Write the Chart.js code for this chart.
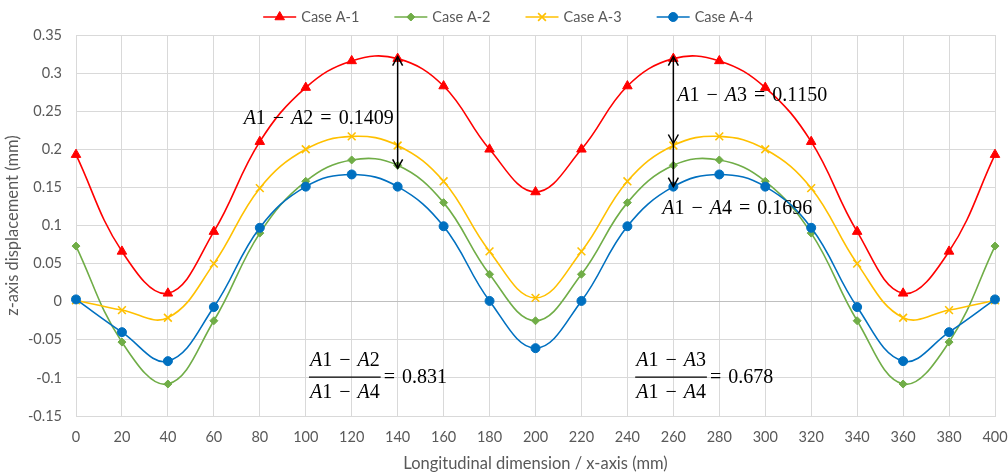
<!DOCTYPE html>
<html>
<head>
<meta charset="utf-8">
<script src="https://cdn.jsdelivr.net/npm/chart.js@4.4.1/dist/chart.umd.min.js"></script>
<style>
  html, body { margin: 0; padding: 0; background: #fff; }
  #wrap { width: 1008px; height: 476px; }
</style>
</head>
<body>
<div id="wrap"><canvas id="chart" width="1008" height="476"></canvas></div>
<script>
// longitudinal positions (mm)
const xPositions = [0, 20, 40, 60, 80, 100, 120, 140, 160, 180, 200, 220, 240, 260, 280, 300, 320, 340, 360, 380, 400];

// z-axis displacement (mm)
const caseA1 = [0.193, 0.066, 0.011, 0.092, 0.210, 0.281, 0.316, 0.319, 0.283, 0.200, 0.144, 0.200, 0.283, 0.319, 0.316, 0.281, 0.210, 0.092, 0.011, 0.066, 0.193];
const caseA2 = [0.073, -0.053, -0.108, -0.025, 0.090, 0.158, 0.186, 0.179, 0.130, 0.036, -0.025, 0.036, 0.130, 0.179, 0.186, 0.158, 0.090, -0.025, -0.108, -0.053, 0.073];
const caseA3 = [0.002, -0.011, -0.021, 0.050, 0.149, 0.200, 0.217, 0.205, 0.158, 0.066, 0.005, 0.066, 0.158, 0.205, 0.217, 0.200, 0.149, 0.050, -0.021, -0.011, 0.002];
const caseA4 = [0.003, -0.040, -0.078, -0.007, 0.097, 0.151, 0.167, 0.151, 0.099, 0.001, -0.061, 0.001, 0.099, 0.151, 0.167, 0.151, 0.097, -0.007, -0.078, -0.040, 0.003];

const seriesNames = ['Case A-1', 'Case A-2', 'Case A-3', 'Case A-4'];

const TEXT_GREY = '#595959';
const GRID_GREY = '#d9d9d9';
const UI_FONT = 'Lato, "Open Sans", sans-serif';
const MATH_FONT = '"Liberation Serif", "DejaVu Serif", serif';
const MATH_SIZE = 20;
const OP_PAD = 2; // extra room around − and =, like Cambria Math

function toPoints(values) {
    return xPositions.map((x, i) => ({ x: x, y: values[i] }));
}

function makeDataset(label, values, color, style, radius, order) {
    return {
        label: label,
        data: toPoints(values),
        borderColor: color,
        backgroundColor: color,
        pointBackgroundColor: color,
        pointBorderColor: color,
        pointStyle: style,
        pointRadius: radius,
        pointBorderWidth: style === 'crossRot' ? 1.6 : 1,
        borderWidth: 1.6,
        tension: 0.4,
        clip: false,
        order: order
    };
}

const datasets = [
    makeDataset(seriesNames[0], caseA1, '#ff0000', 'triangle', 5.5, 3),
    makeDataset(seriesNames[1], caseA2, '#70ad47', 'rectRot', 4, 2),
    makeDataset(seriesNames[2], caseA3, '#ffc000', 'crossRot', 5.5, 1),
    makeDataset(seriesNames[3], caseA4, '#0070c0', 'circle', 4.5, 0)
];

// math-style text: letters italic, digits and operators upright
function mathParts(ctx, str) {
    return Array.from(str).map(ch => {
        const italic = /[A-Za-z]/.test(ch);
        ctx.font = (italic ? 'italic ' : '') + MATH_SIZE + 'px ' + MATH_FONT;
        const pad = (ch === '−' || ch === '=') ? OP_PAD : 0;
        return { ch: ch, italic: italic, pad: pad, w: ctx.measureText(ch).width + pad * 2 };
    });
}

function measureMath(ctx, str) {
    return mathParts(ctx, str).reduce((s, p) => s + p.w, 0);
}

function drawMath(ctx, str, x, y, align) {
    const parts = mathParts(ctx, str);
    const total = parts.reduce((s, p) => s + p.w, 0);
    let cx = x;
    if (align === 'right') cx = x - total;
    if (align === 'center') cx = x - total / 2;
    ctx.textAlign = 'left';
    ctx.textBaseline = 'middle';
    parts.forEach(p => {
        ctx.font = (p.italic ? 'italic ' : '') + MATH_SIZE + 'px ' + MATH_FONT;
        ctx.fillText(p.ch, cx + p.pad, y);
        cx += p.w;
    });
    return total;
}

function arrowHead(ctx, x, tipY, dir) {
    ctx.beginPath();
    ctx.moveTo(x - 5, tipY + dir * 9);
    ctx.lineTo(x, tipY);
    ctx.lineTo(x + 5, tipY + dir * 9);
    ctx.stroke();
}

function drawFraction(ctx, num, den, result, cx, barY) {
    const w = Math.max(measureMath(ctx, num), measureMath(ctx, den)) + 2;
    drawMath(ctx, num, cx, barY - 16, 'center');
    drawMath(ctx, den, cx, barY + 16, 'center');
    ctx.beginPath();
    ctx.lineWidth = 1.4;
    ctx.moveTo(cx - w / 2, barY);
    ctx.lineTo(cx + w / 2, barY);
    ctx.stroke();
    drawMath(ctx, result, cx + w / 2 + 1, barY + 1, 'left');
}

const annotationPlugin = {
    id: 'diffAnnotations',
    afterDatasetsDraw(chart) {
        const { ctx, scales: { x, y } } = chart;
        ctx.save();
        ctx.strokeStyle = '#000';
        ctx.fillStyle = '#000';
        ctx.lineWidth = 1.5;

        // A1 - A2 at x = 140
        const i1 = xPositions.indexOf(140);
        const ax1 = x.getPixelForValue(140);
        const t1 = y.getPixelForValue(caseA1[i1]) - 2;
        const b1 = y.getPixelForValue(caseA2[i1]) + 3;
        ctx.beginPath();
        ctx.moveTo(ax1, t1);
        ctx.lineTo(ax1, b1);
        ctx.stroke();
        arrowHead(ctx, ax1, t1, 1);
        arrowHead(ctx, ax1, b1, -1);
        drawMath(ctx, 'A1 − A2 = 0.1409', ax1 - 4, (t1 + b1) / 2 + 6, 'right');

        // A1 - A3 and A1 - A4 at x = 260
        const i2 = xPositions.indexOf(260);
        const ax2 = x.getPixelForValue(260);
        const t2 = y.getPixelForValue(caseA1[i2]) - 2;
        const m2 = y.getPixelForValue(caseA3[i2]) - 2;
        const b2 = y.getPixelForValue(caseA4[i2]);
        ctx.beginPath();
        ctx.moveTo(ax2, t2);
        ctx.lineTo(ax2, b2);
        ctx.stroke();
        arrowHead(ctx, ax2, t2, 1);
        arrowHead(ctx, ax2, m2, -1);
        arrowHead(ctx, ax2, b2, -1);
        drawMath(ctx, 'A1 − A3 = 0.1150', ax2 + 4, (t2 + m2) / 2 - 4, 'left');
        drawMath(ctx, 'A1 − A4 = 0.1696', ax2 - 11, b2 + 22, 'left');

        // ratios
        const barY = y.getPixelForValue(-0.099);
        drawFraction(ctx, 'A1 − A2', 'A1 − A4', '= 0.831', x.getPixelForValue(117), barY);
        drawFraction(ctx, 'A1 − A3', 'A1 − A4', '= 0.678', x.getPixelForValue(259), barY);
        ctx.restore();
    }
};

// legend drawn Excel-style: short line with the marker on it
const lineLegendPlugin = {
    id: 'lineLegend',
    afterDraw(chart) {
        const ctx = chart.ctx;
        ctx.save();
        ctx.font = '14.5px ' + UI_FONT;
        const lineLen = 33, gap = 5, spacing = 35;
        const widths = chart.data.datasets.map(ds => ctx.measureText(ds.label).width);
        const total = widths.reduce((s, w) => s + lineLen + gap + w, 0) + spacing * (widths.length - 1);
        let cx = chart.width / 2 - total / 2 + 4;
        const cy = 17;
        chart.data.datasets.forEach((ds, i) => {
            ctx.strokeStyle = ds.borderColor;
            ctx.fillStyle = ds.borderColor;
            ctx.lineWidth = 1.6;
            ctx.beginPath();
            ctx.moveTo(cx, cy);
            ctx.lineTo(cx + lineLen, cy);
            ctx.stroke();
            ctx.lineWidth = ds.pointBorderWidth;
            Chart.helpers.drawPoint(ctx, {
                pointStyle: ds.pointStyle,
                radius: ds.pointRadius,
                rotation: 0,
                borderWidth: ds.pointBorderWidth
            }, cx + lineLen / 2, cy);
            ctx.fillStyle = TEXT_GREY;
            ctx.textAlign = 'left';
            ctx.textBaseline = 'middle';
            ctx.font = '14.5px ' + UI_FONT;
            ctx.fillText(ds.label, cx + lineLen + gap, cy);
            cx += lineLen + gap + widths[i] + spacing;
        });
        ctx.restore();
    }
};

new Chart(document.getElementById('chart'), {
    type: 'line',
    data: { datasets: datasets },
    plugins: [annotationPlugin, lineLegendPlugin],
    options: {
        responsive: false,
        animation: false,
        layout: { padding: { top: 35, right: 13, left: 0, bottom: 0 } },
        plugins: {
            legend: { display: false },
            tooltip: { enabled: false }
        },
        scales: {
            x: {
                type: 'linear',
                min: 0,
                max: 400,
                afterFit: scale => {
                    scale.height = 60;
                    scale.paddingLeft = 0;
                    scale.paddingRight = 0;
                },
                ticks: {
                    stepSize: 20,
                    padding: 13,
                    color: TEXT_GREY,
                    font: { family: UI_FONT, size: 14.5 }
                },
                grid: { color: GRID_GREY, drawTicks: false },
                border: { color: GRID_GREY },
                title: {
                    display: true,
                    text: 'Longitudinal dimension / x-axis (mm)',
                    color: TEXT_GREY,
                    font: { family: UI_FONT, size: 16.5 },
                    padding: { top: 0, bottom: 2 }
                }
            },
            y: {
                min: -0.15,
                max: 0.35,
                afterFit: scale => {
                    scale.width = 76;
                    scale.paddingTop = 0;
                    scale.paddingBottom = 0;
                },
                ticks: {
                    stepSize: 0.05,
                    padding: 14,
                    color: TEXT_GREY,
                    font: { family: UI_FONT, size: 14.5 },
                    callback: v => String(Number(v.toFixed(2)))
                },
                grid: {
                    color: ctx => Math.abs(ctx.tick.value) < 1e-9 ? '#bfbfbf' : GRID_GREY,
                    drawTicks: false
                },
                border: { color: GRID_GREY },
                title: {
                    display: true,
                    text: 'z-axis displacement (mm)',
                    color: TEXT_GREY,
                    font: { family: UI_FONT, size: 16.5 },
                    padding: { top: 3, bottom: 0 }
                }
            }
        }
    }
});
</script>
</body>
</html>
